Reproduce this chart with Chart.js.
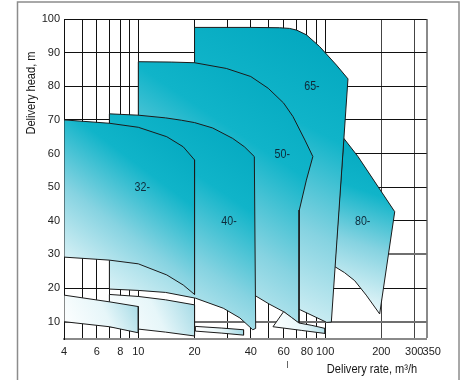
<!DOCTYPE html>
<html>
<head>
<meta charset="utf-8">
<script src="https://cdn.jsdelivr.net/npm/chart.js@4.4.0/dist/chart.umd.min.js"></script>
<style>
  html, body { margin: 0; padding: 0; background: #fff; overflow: hidden; }
  #wrap { width: 460px; height: 380px; }
</style>
</head>
<body>
<div id="wrap"><canvas id="pumpChart" width="460" height="380"></canvas></div>
<script>
// axis ticks
const xGrid = [4, 5, 6, 7, 8, 9, 10, 20, 30, 40, 50, 60, 70, 80, 90, 100, 200, 300, 350];
const xLabelled = [4, 6, 8, 10, 20, 40, 60, 80, 100, 200, 300];
const yGrid = [10, 20, 30, 40, 50, 60, 70, 80, 90, 100];

// pump families, upper (2-pole) ranges: flow m3/h, head m
const fam80Flow = [126, 150, 236, 196, 166, 144, 127, 112.5, 126];
const fam80Head = [64.5, 59.1, 42.7, 12.3, 17.9, 22.2, 24.6, 26.4, 64.5];

const fam65Flow = [20, 40, 57, 64.5, 70.4, 79.4, 93.5, 115, 132.6, 108, 102, 73.8, 60, 42, 20, 20];
const fam65Head = [97.5, 97.5, 97.4, 97.2, 96.7, 95.3, 91.8, 86.3, 82.2, 9.9, 9.8, 13.5, 16, 20, 22, 97.5];

const fam50Flow = [10, 15, 20, 29.6, 40, 49.6, 60, 67.3, 78, 86, 79.4, 72.8, 72.5, 59.8, 50, 41.8, 30, 20, 10, 10];
const fam50Head = [87.3, 87.2, 87.0, 85.3, 82.9, 79.4, 75.0, 71.0, 64.0, 59.1, 52.1, 43.2, 9.5, 13.0, 15.3, 17.9, 19.5, 20.5, 21, 87.3];

const fam40Flow = [7, 10, 14, 17, 20, 25, 32, 37, 41.8, 42.5, 41, 35, 28.5, 20.2, 14, 10, 7, 7];
const fam40Head = [71.8, 71.4, 70.6, 69.9, 69.2, 67.6, 64.5, 62, 59.1, 8.0, 7.6, 11.1, 14, 17, 18.7, 19.3, 19.7, 71.8];

const fam32Flow = [4, 7, 10, 14.2, 17.4, 20, 20, 17.4, 14.2, 10, 7, 4, 4];
const fam32Head = [70, 69, 67.8, 65, 62, 58.1, 18.1, 20.9, 23.9, 27.2, 28.3, 29.2, 70];

// lower (4-pole) ranges
const low65Flow = [60, 66, 72.5, 85, 100, 100, 75, 52.6, 60];
const low65Head = [13, 11.3, 9.6, 8.9, 8.0, 6.5, 7.4, 8.5, 13];

const low50Flow = [20.2, 28, 36.6, 36.6, 28, 20.2, 20.2];
const low50Head = [8.6, 8.1, 7.6, 6.0, 6.6, 7.2, 8.6];

const low40Flow = [7, 10, 14, 20, 20, 14, 10, 7, 7];
const low40Head = [18.1, 17.5, 16.5, 15.0, 5.75, 6.9, 7.8, 8.5, 18.1];

const low32Flow = [4, 7, 10, 10, 7, 4, 4];
const low32Head = [17.9, 15.9, 14.5, 6.7, 8.5, 10.0, 17.9];

// series labels drawn inside the ranges
const seriesNames = ["32-", "40-", "50-", "65-", "80-"];
const seriesFlow = [10.5, 30.6, 59, 85, 159];
const seriesHead = [50, 40, 60, 80, 40];
const seriesShape = ["fam32", "fam40", "fam50", "fam65", "fam80"];

const upperStops = [[0, "#ffffff"], [0.4, "#86d3e1"], [0.68, "#10b4c9"], [1, "#00a5bd"]];
const lowerStops = [[0, "#ffffff"], [0.55, "#e6f6f9"], [1, "#9fd8e4"]];

const toPoints = (xs, ys) => xs.map((x, i) => ({ x: x, y: ys[i] }));

const shapeGradient = (stops) => (ctx) => {
  const chart = ctx.chart;
  if (!chart.chartArea) return stops[stops.length - 1][1];
  const ds = chart.data.datasets[ctx.datasetIndex];
  const px = ds.data.map(p => chart.scales.x.getPixelForValue(p.x));
  const py = ds.data.map(p => chart.scales.y.getPixelForValue(p.y));
  const g = chart.ctx.createLinearGradient(Math.min(...px), Math.max(...py), Math.max(...px), Math.min(...py));
  stops.forEach(s => g.addColorStop(s[0], s[1]));
  return g;
};

const makeShape = (id, xs, ys, stops) => ({
  label: id,
  data: toPoints(xs, ys),
  showLine: true,
  fill: "shape",
  tension: 0,
  borderColor: "#1b1b1b",
  borderWidth: 1,
  pointRadius: 0,
  backgroundColor: shapeGradient(stops),
});

// back to front
const shapes = [
  makeShape("fam80", fam80Flow, fam80Head, upperStops),
  makeShape("fam65", fam65Flow, fam65Head, upperStops),
  makeShape("fam50", fam50Flow, fam50Head, upperStops),
  makeShape("fam40", fam40Flow, fam40Head, upperStops),
  makeShape("fam32", fam32Flow, fam32Head, upperStops),
  makeShape("low65", low65Flow, low65Head, lowerStops),
  makeShape("low50", low50Flow, low50Head, lowerStops),
  makeShape("low40", low40Flow, low40Head, lowerStops),
  makeShape("low32", low32Flow, low32Head, lowerStops),
];
shapes.forEach((s, i) => { s.order = shapes.length - i; });

const sans = '"Liberation Sans", Arial, sans-serif';

// draw text squeezed horizontally, the original uses a condensed face
const squeezed = (c, text, x, y, size, sx) => {
  c.save();
  c.font = size + "px " + sans;
  c.translate(x, y);
  c.scale(sx, 1);
  c.fillText(text, 0, 0);
  c.restore();
};

const framePlugin = {
  id: "frame",
  beforeDraw(chart) {
    const c = chart.ctx;
    c.save();
    c.fillStyle = "#fff";
    c.fillRect(0, 0, chart.width, chart.height);
    c.strokeStyle = "#8c8c8c";
    c.lineWidth = 1.5;
    c.strokeRect(17.5, 2, 441.5, 400);
    c.restore();
  },
  afterDraw(chart) {
    const c = chart.ctx;
    const xs = chart.scales.x, ys = chart.scales.y;
    c.save();
    c.textAlign = "center";
    c.textBaseline = "middle";
    seriesNames.forEach((name, i) => {
      const cx = xs.getPixelForValue(seriesFlow[i]);
      const cy = ys.getPixelForValue(seriesHead[i]);
      const idx = chart.data.datasets.findIndex(d => d.label === seriesShape[i]);
      c.fillStyle = chart.getDatasetMeta(idx).dataset.options.backgroundColor;
      c.fillRect(cx - 12, cy - 6, 24, 12);
      c.fillStyle = "#0e2a3a";
      squeezed(c, name, cx, cy + 0.5, 13, 0.82);
    });
    // last x label sits right of its grid line, clear of "300"
    c.fillStyle = "#222";
    c.font = "11px " + sans;
    c.textBaseline = "middle";
    c.fillText("350", xs.getPixelForValue(350) + 5, 352);
    // axis titles
    c.fillStyle = "#161616";
    squeezed(c, "Delivery rate, m\u00b3/h", 372, 369.5, 13.5, 0.82);
    c.translate(31.5, 93);
    c.rotate(-Math.PI / 2);
    squeezed(c, "Delivery head, m", 0, 0, 13.5, 0.82);
    c.restore();
    // small stray mark under the axis
    c.save();
    c.strokeStyle = "#666";
    c.lineWidth = 1;
    c.beginPath();
    c.moveTo(287.5, 361);
    c.lineTo(287.5, 368);
    c.stroke();
    c.restore();
  },
};

new Chart(document.getElementById("pumpChart"), {
  type: "scatter",
  data: { datasets: shapes },
  options: {
    responsive: false,
    animation: false,
    devicePixelRatio: 1,
    layout: { padding: { left: 0, top: 19, right: 33.3, bottom: 0 } },
    plugins: { legend: { display: false }, tooltip: { enabled: false } },
    scales: {
      x: {
        type: "logarithmic",
        min: 4,
        max: 350,
        z: 1,
        afterBuildTicks: (s) => { s.ticks = xGrid.map(v => ({ value: v })); },
        afterFit: (s) => { s.height = 41.5; },
        ticks: {
          autoSkip: false,
          maxRotation: 0,
          padding: 7,
          color: "#222",
          font: { family: "Liberation Sans", size: 11 },
          callback: (v) => (xLabelled.includes(v) ? String(v) : ""),
        },
        grid: {
          drawTicks: false,
          color: (c) => (c.tick && c.tick.value === 350 ? "#8a8a8a" : (c.tick && c.tick.value >= 200 ? "#444" : "#111")),
          lineWidth: (c) => (c.tick && c.tick.value === 350 ? 2 : 1),
        },
        border: { color: "#8a8a8a", width: 2 },
      },
      y: {
        type: "linear",
        min: 5,
        max: 100,
        z: 1,
        afterBuildTicks: (s) => { s.ticks = yGrid.map(v => ({ value: v })); },
        afterFit: (s) => { s.width = 64; },
        ticks: {
          padding: 4,
          color: "#222",
          font: { family: "Liberation Sans", size: 11 },
        },
        grid: {
          drawTicks: false,
          color: (c) => (c.tick && (c.tick.value === 30 || c.tick.value === 10) ? "#6f6f6f" : "#111"),
          lineWidth: (c) => (c.tick && (c.tick.value === 30 || c.tick.value === 10) ? 2 : 1),
        },
        border: { color: "#111", width: 1 },
      },
    },
  },
  plugins: [framePlugin],
});
</script>
</body>
</html>
